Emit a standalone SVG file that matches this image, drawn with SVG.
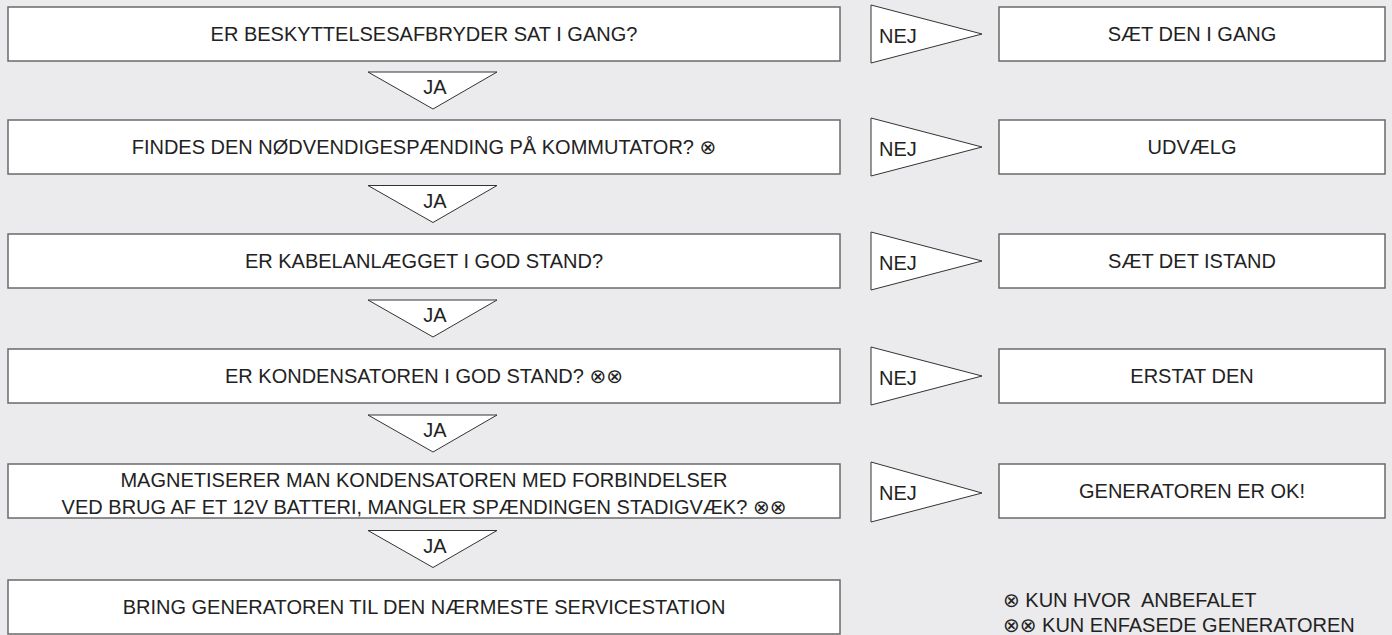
<svg xmlns="http://www.w3.org/2000/svg" width="1392" height="635" viewBox="0 0 1392 635">
<style>
.bg{fill:#EBEBED}
.box{fill:#fff;stroke:#6a6a6a;stroke-width:1.5}
.tri{fill:#fff;stroke:#333;stroke-width:1}
text{font-family:"Liberation Sans",Arial,sans-serif;font-size:20px;fill:#222}
.c{text-anchor:middle}
.sym{font-family:"DejaVu Sans",sans-serif;font-size:20px}
.fn{white-space:pre}
</style>
<rect class="bg" x="0" y="0" width="1392" height="635"/>
<g id="connectors">
<polygon class="tri" points="368,72 497,72 433,109"/>
<text class="c" x="435" y="94">JA</text>
<polygon class="tri" points="368,185.5 497,185.5 433,222.5"/>
<text class="c" x="435" y="207.5">JA</text>
<polygon class="tri" points="368,300 497,300 433,337"/>
<text class="c" x="435" y="322">JA</text>
<polygon class="tri" points="368,415 497,415 433,452"/>
<text class="c" x="435" y="437">JA</text>
<polygon class="tri" points="368,530.5 497,530.5 433,567.5"/>
<text class="c" x="435" y="552.5">JA</text>
<polygon class="tri" points="871,5 982,34 871,63"/>
<text x="879" y="43">NEJ</text>
<polygon class="tri" points="871,118 982,147 871,176"/>
<text x="879" y="156">NEJ</text>
<polygon class="tri" points="871,232 982,261 871,290"/>
<text x="879" y="270">NEJ</text>
<polygon class="tri" points="871,347 982,376 871,405"/>
<text x="879" y="385">NEJ</text>
<polygon class="tri" points="871,462 982,493 871,522"/>
<text x="879" y="500">NEJ</text>
</g>
<g id="q1"><rect class="box" x="8" y="7" width="832" height="54"/><text class="c" x="424" y="41">ER BESKYTTELSESAFBRYDER SAT I GANG?</text></g>
<g id="q2"><rect class="box" x="8" y="120" width="832" height="54"/><text class="c" x="424" y="154">FINDES DEN NØDVENDIGESPÆNDING PÅ KOMMUTATOR? <tspan class="sym">⊗</tspan></text></g>
<g id="q3"><rect class="box" x="8" y="234" width="832" height="54"/><text class="c" x="424" y="268">ER KABELANLÆGGET I GOD STAND?</text></g>
<g id="q4"><rect class="box" x="8" y="349" width="832" height="54"/><text class="c" x="424" y="383">ER KONDENSATOREN I GOD STAND? <tspan class="sym">⊗⊗</tspan></text></g>
<g id="q5"><rect class="box" x="8" y="464" width="832" height="54"/><text class="c" x="424" y="487">MAGNETISERER MAN KONDENSATOREN MED FORBINDELSER</text><text class="c" x="424" y="514">VED BRUG AF ET 12V BATTERI, MANGLER SPÆNDINGEN STADIGVÆK? <tspan class="sym">⊗⊗</tspan></text></g>
<g id="end"><rect class="box" x="8" y="580" width="832" height="54"/><text class="c" x="424" y="614">BRING GENERATOREN TIL DEN NÆRMESTE SERVICESTATION</text></g>
<g id="a1"><rect class="box" x="999" y="7" width="386" height="54"/><text class="c" x="1192" y="41">SÆT DEN I GANG</text></g>
<g id="a2"><rect class="box" x="999" y="120" width="386" height="54"/><text class="c" x="1192" y="154">UDVÆLG</text></g>
<g id="a3"><rect class="box" x="999" y="234" width="386" height="54"/><text class="c" x="1192" y="268">SÆT DET ISTAND</text></g>
<g id="a4"><rect class="box" x="999" y="349" width="386" height="54"/><text class="c" x="1192" y="383">ERSTAT DEN</text></g>
<g id="a5"><rect class="box" x="999" y="464" width="386" height="54"/><text class="c" x="1192" y="498">GENERATOREN ER OK!</text></g>
<g id="notes">
<text class="fn" x="1003" y="607"><tspan class="sym">⊗</tspan> KUN HVOR  ANBEFALET</text>
<text class="fn" x="1003" y="632"><tspan class="sym">⊗⊗</tspan> KUN ENFASEDE GENERATOREN</text>
</g>
</svg>
